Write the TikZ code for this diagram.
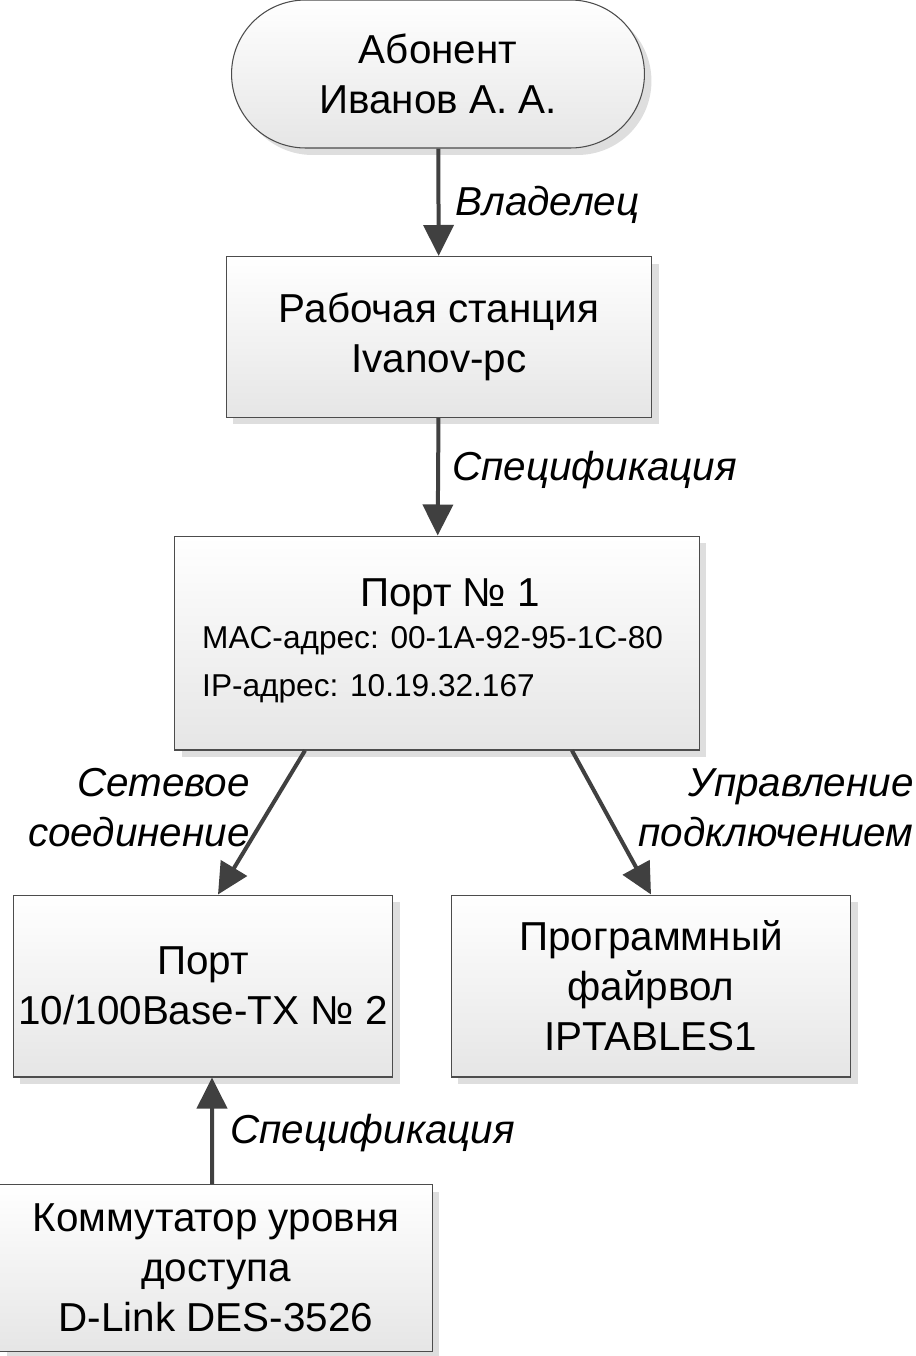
\documentclass[tikz,border=0pt]{standalone}
\usepackage{fontspec}
\setmainfont{Liberation Sans}
\usetikzlibrary{arrows.meta,shadows,positioning}
\begin{document}
\begin{tikzpicture}[x=0.02cm,y=-0.02cm,
   blok/.style={draw=black!70,line width=0.6pt,top color=white,bottom color=black!10,
     copy shadow={shadow xshift=0.14cm,shadow yshift=-0.14cm,fill=black!13,draw=none},
     align=center,font=\fontsize{23}{28.5}\selectfont,inner sep=0pt},
   pijl/.style={draw=black!75,line width=0.08cm,-{Triangle[length=0.62cm,width=0.6cm]}},
   lbl/.style={font=\fontsize{23}{28.5}\selectfont\itshape,inner sep=0pt}]
   \useasboundingbox (0,0) rectangle (916,1356);
   \node[blok,rounded corners=1.48cm,minimum width=8.26cm,minimum height=2.96cm] (abon) at (438,74) {Абонент\\Иванов А. А.};
   \node[blok,minimum width=8.52cm,minimum height=3.22cm] (pc) at (439,337) {Рабочая станция\\Ivanov-pc};
   \node[blok,minimum width=10.5cm,minimum height=4.28cm] (port1) at (437,643) {};
   \node[font=\fontsize{23}{28.5}\selectfont] (p1t) at (450,597) {Порт № 1};
   \node[font=\fontsize{18}{22}\selectfont,anchor=west] (mac) at (196,641) {MAC-адрес: 00-1A-92-95-1C-80};
   \node[font=\fontsize{18}{22}\selectfont,anchor=west] (ip) at (196,689) {IP-адрес: 10.19.32.167};
   \node[blok,minimum width=7.6cm,minimum height=3.64cm] (port2) at (203,986) {Порт\\10/100Base-TX № 2};
   \node[blok,minimum width=8cm,minimum height=3.64cm] (fw) at (651,986) {Программный\\файрвол\\IPTABLES1};
   \node[blok,minimum width=8.66cm,minimum height=3.34cm] (sw) at (216,1268) {Коммутатор уровня\\доступа\\D-Link DES-3526};

   \draw[pijl] (abon) -- (pc);
   \draw[pijl] (pc) -- (port1);
   \draw[pijl] ([xshift=-2.64cm]port1.south) -- ([xshift=0.3cm]port2.north);
   \draw[pijl] ([xshift=2.7cm]port1.south) -- (fw.north);
   \draw[pijl] ([xshift=-0.08cm]sw.north) -- ([xshift=0.18cm]port2.south);

   \node[lbl,anchor=west] (l1) at (455,205) {Владелец};
   \node[lbl,anchor=west] (l2) at (452,470) {Спецификация};
   \node[lbl,anchor=east,align=right] (l3) at (250,808) {Сетевое\\соединение};
   \node[lbl,anchor=east,align=right] (l4) at (914,808) {Управление\\подключением};
   \node[lbl,anchor=west] (l5) at (230,1133) {Спецификация};
\end{tikzpicture}
\end{document}
